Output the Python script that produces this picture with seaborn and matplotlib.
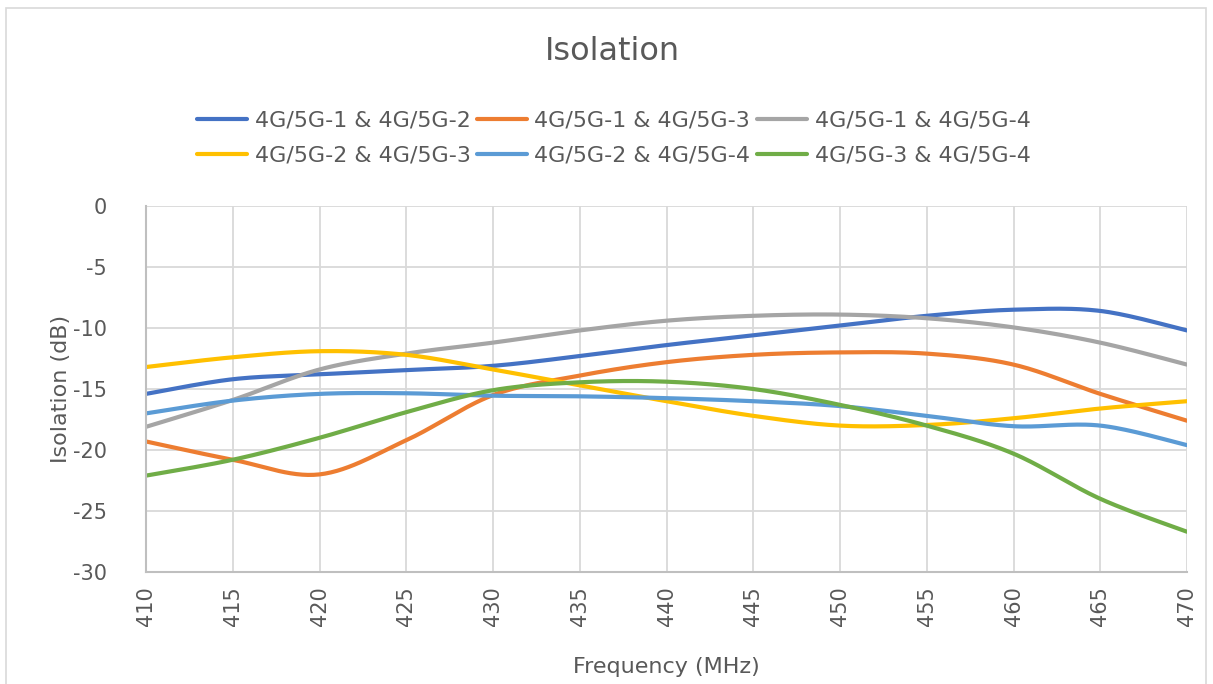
import numpy as np
import pandas as pd
import matplotlib
matplotlib.use("Agg")
import matplotlib.pyplot as plt
import matplotlib.patches as mpatches
import seaborn as sns

# ---- data ----
freq = [410, 415, 420, 425, 430, 435, 440, 445, 450, 455, 460, 465, 470]
s12 = [-15.4, -14.2, -13.8, -13.45, -13.1, -12.3, -11.4, -10.6, -9.8, -9.0, -8.5, -8.6, -10.2]
s13 = [-19.3, -20.8, -22.0, -19.2, -15.5, -13.9, -12.8, -12.2, -12.0, -12.1, -13.0, -15.4, -17.6]
s14 = [-18.1, -15.9, -13.4, -12.1, -11.2, -10.2, -9.4, -9.0, -8.9, -9.2, -9.95, -11.2, -13.0]
s23 = [-13.2, -12.4, -11.9, -12.2, -13.4, -14.7, -16.0, -17.2, -18.0, -17.95, -17.4, -16.6, -16.0]
s24 = [-17.0, -15.95, -15.4, -15.35, -15.55, -15.6, -15.75, -16.0, -16.4, -17.2, -18.05, -18.0, -19.6]
s34 = [-22.1, -20.8, -19.0, -16.9, -15.1, -14.45, -14.4, -15.0, -16.3, -18.0, -20.3, -24.0, -26.7]
labels = ["4G/5G-1 & 4G/5G-2", "4G/5G-1 & 4G/5G-3", "4G/5G-1 & 4G/5G-4",
          "4G/5G-2 & 4G/5G-3", "4G/5G-2 & 4G/5G-4", "4G/5G-3 & 4G/5G-4"]
series = [s12, s13, s14, s23, s24, s34]
colors = ["#4472C4", "#ED7D31", "#A5A5A5", "#FFC000", "#5B9BD5", "#70AD47"]
title = "Isolation"
xlabel = "Frequency (MHz)"
ylabel = "Isolation (dB)"


def smooth(x, y, n=30):
    """Catmull-Rom smoothing like Excel's smoothed line (display only)."""
    x = np.asarray(x, float)
    y = np.asarray(y, float)
    P = np.column_stack([x, y])
    P = np.vstack([P[0], P, P[-1]])
    out = []
    t = np.linspace(0, 1, n, endpoint=False)[:, None]
    for i in range(1, len(P) - 2):
        p0, p1, p2, p3 = P[i - 1], P[i], P[i + 1], P[i + 2]
        seg = 0.5 * ((2 * p1) + (-p0 + p2) * t + (2 * p0 - 5 * p1 + 4 * p2 - p3) * t ** 2
                     + (-p0 + 3 * p1 - 3 * p2 + p3) * t ** 3)
        out.append(seg)
    out.append(P[-2][None, :])
    out = np.vstack(out)
    return out[:, 0], out[:, 1]


rows = []
for lab, ys in zip(labels, series):
    xs, yy = smooth(freq, ys)
    for k, (a, b) in enumerate(zip(xs, yy)):
        rows.append({"Frequency": a, "Isolation": b, "Pair": lab, "order": k})
df = pd.DataFrame(rows)

sns.set_theme(style="white")
plt.rcParams["font.family"] = ["DejaVu Sans"]
plt.rcParams["axes.unicode_minus"] = False
txt = "#595959"

fig = plt.figure(figsize=(12.13, 6.84), dpi=100)
ax = fig.add_axes([146 / 1213, 1 - 572 / 684, (1187 - 146) / 1213, (572 - 206) / 684])

sns.lineplot(data=df, x="Frequency", y="Isolation", hue="Pair", hue_order=labels,
             palette=colors, sort=False, estimator=None, units="Pair",
             linewidth=3.0, ax=ax)

ax.set_xlim(410, 470)
ax.set_ylim(-30, 0)
ax.set_xticks(np.arange(410, 471, 5))
ax.set_yticks(np.arange(-30, 1, 5))
ax.grid(True, color="#D9D9D9", linewidth=1.3)
ax.set_axisbelow(True)
for s in ["top", "right"]:
    ax.spines[s].set_visible(False)
for s in ["left", "bottom"]:
    ax.spines[s].set_color("#BFBFBF")
    ax.spines[s].set_linewidth(1.5)
ax.tick_params(axis="both", length=0, labelsize=15, labelcolor=txt)
ax.tick_params(axis="y", pad=28)
ax.tick_params(axis="x", pad=10, labelrotation=90)

ax.set_xlabel(xlabel, fontsize=16, color=txt)
ax.set_ylabel(ylabel, fontsize=16, color=txt)
ax.xaxis.set_label_coords(0.5, -0.232)
ax.yaxis.set_label_coords(-0.072, 0.5)

fig.text(0.505, 1 - 52 / 684, title, ha="center", va="center", fontsize=23, color=txt)

handles, labs = ax.get_legend_handles_labels()
if ax.legend_:
    ax.legend_.remove()
order = [0, 3, 1, 4, 2, 5]
leg = fig.legend([handles[i] for i in order], [labs[i] for i in order], ncol=3,
                 loc="center", bbox_to_anchor=(0.506, 1 - 138 / 684),
                 frameon=False, fontsize=15.9, handlelength=2.25, handletextpad=0.35,
                 columnspacing=0.3, labelspacing=0.7)
for t in leg.get_texts():
    t.set_color(txt)
for h in leg.legend_handles:
    h.set_linewidth(3.0)

border = mpatches.Rectangle((6 / 1213, -0.01), (1206 - 6) / 1213, 1 - 8 / 684 + 0.01,
                            transform=fig.transFigure, fill=False, edgecolor="#D9D9D9",
                            linewidth=1.2)
fig.patches.append(border)

fig.savefig("out.png", dpi=100, facecolor="white")
